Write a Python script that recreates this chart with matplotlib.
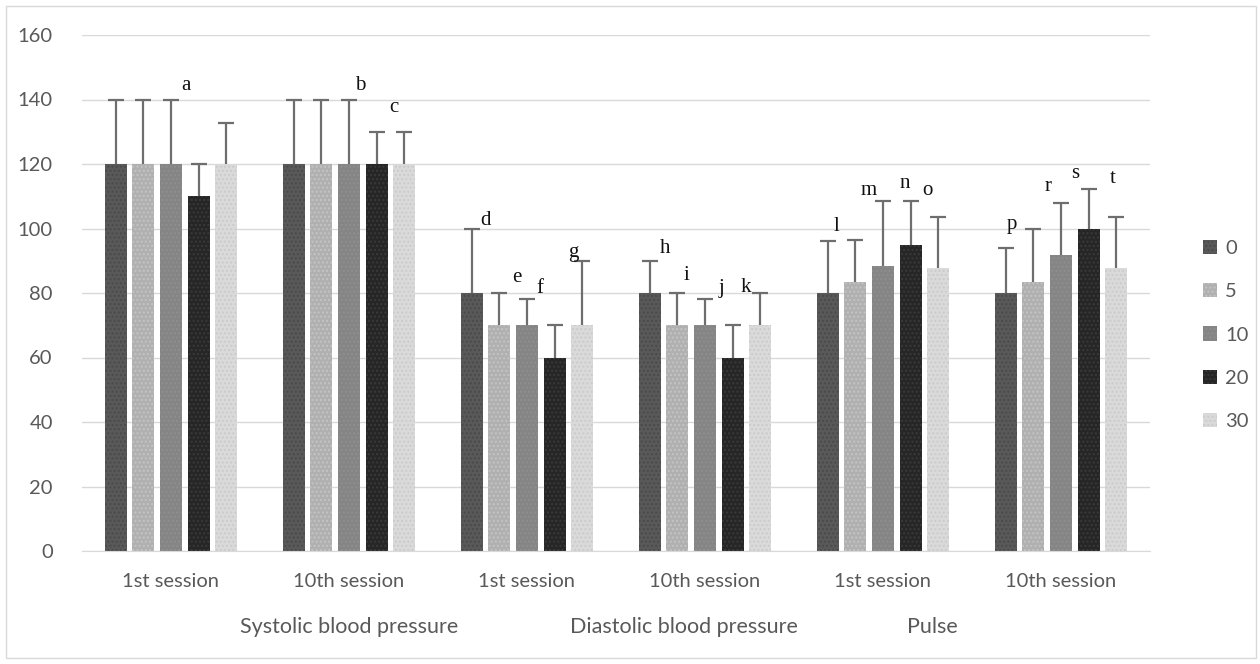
import matplotlib
matplotlib.use("Agg")
import matplotlib.pyplot as plt
import numpy as np
from matplotlib.patches import Rectangle

# data
sessions = ["1st session", "10th session"] * 3
measures = ["Systolic blood pressure", "Diastolic blood pressure", "Pulse"]
series = ["0", "5", "10", "20", "30"]

# one row per group (SBP 1st, SBP 10th, DBP 1st, DBP 10th, Pulse 1st, Pulse 10th)
means = np.array([
    [120, 120, 120, 110, 120],
    [120, 120, 120, 120, 120],
    [80, 70, 70, 60, 70],
    [80, 70, 70, 60, 70],
    [80, 83.5, 88.3, 95, 87.7],
    [80, 83.5, 91.8, 99.8, 87.7],
])
sds = np.array([
    [20, 20, 20, 10, 12.6],
    [20, 20, 20, 10, 10],
    [20, 10, 8, 10, 20],
    [10, 10, 8, 10, 10],
    [16, 13, 20.2, 13.5, 16],
    [14, 16.5, 16, 12.4, 16],
])

# significance letters: (letter, group, bar, x shift in group units, height above cap)
letters = [
    ("a", 0, 2, 0.085, 1.5), ("b", 1, 2, 0.065, 1.5), ("c", 1, 3, 0.095, 4.5),
    ("d", 2, 0, 0.075, -0.5), ("e", 2, 1, 0.095, 2.0), ("f", 2, 2, 0.075, 0.3),
    ("g", 2, 4, -0.05, -0.5), ("h", 3, 0, 0.085, 1.0), ("i", 3, 1, 0.05, 2.5),
    ("j", 3, 2, 0.09, 0.5), ("k", 3, 4, -0.08, -1.2), ("l", 4, 0, 0.05, 1.8),
    ("m", 4, 2, -0.08, 0.3), ("n", 4, 3, -0.03, 2.5), ("o", 4, 3, 0.095, 0.3),
    ("p", 5, 0, 0.035, 4.3), ("r", 5, 2, -0.075, 2.3), ("s", 5, 3, -0.075, 1.8),
    ("t", 5, 4, -0.02, 9.0),
]

colors = ["#595959", "#b0b0b0", "#858585", "#262626", "#dadada"]
dots = ["#4a4a4a", "#c4c4c4", "#8f8f8f", "#3a3a3a", "#cbcbcb"]
label_font = "Lato"
txt = "#595959"

fig = plt.figure(figsize=(12.6, 6.64), dpi=100)
ax = fig.add_axes([82 / 1260, 1 - 551 / 664, 1068 / 1260, 516 / 664])

x = np.arange(len(sessions))
stride = 0.155
width = 0.124
handles = []
for i, name in enumerate(series):
    pos = x + (i - 2) * stride
    b = ax.bar(pos, means[:, i], width, color=colors[i], edgecolor=dots[i],
               linewidth=0, hatch="....", label=name, zorder=2)
    tops = means[:, i] + sds[:, i]
    # upper error bars only
    ax.vlines(pos, means[:, i], tops, color="#6e6e6e", lw=1.6, zorder=3)
    ax.plot(pos, tops, ls="none", marker="_", ms=11, mew=1.6,
            color="#6e6e6e", zorder=3)
    handles.append(b)

for ch, g, j, dx, dy in letters:
    px = x[g] + (j - 2) * stride + dx
    top = means[g, j] + sds[g, j]
    ax.text(px, top + dy, ch, family="Liberation Serif", fontsize=15,
            ha="center", va="bottom", color="#111111", zorder=4)

ax.set_xlim(-0.5, 5.5)
ax.set_ylim(0, 160)
ax.set_yticks(range(0, 161, 20))
ax.yaxis.grid(True, color="#d9d9d9", lw=1)
ax.set_axisbelow(True)
for s in ["top", "right", "left"]:
    ax.spines[s].set_visible(False)
ax.spines["bottom"].set_color("#d9d9d9")
ax.tick_params(length=0, labelsize=14.5, labelcolor=txt)
ax.tick_params(axis="y", pad=21)
ax.tick_params(axis="x", pad=16)
for lab in ax.get_yticklabels():
    lab.set_family(label_font)
ax.set_xticks(x)
ax.set_xticklabels(sessions, family=label_font, fontsize=14.5)

# outer category labels
for name, cx in zip(measures, [1.0, 2.88, 4.28]):
    ax.text(cx, -0.148, name, transform=ax.get_xaxis_transform(),
            ha="center", va="center", family=label_font, fontsize=15.5,
            color=txt)

fig.legend(handles=handles, labels=series, loc="center left",
           bbox_to_anchor=(1185 / 1260, 1 - 335 / 664), frameon=False,
           handlelength=0.7, handleheight=0.7, handletextpad=0.4,
           labelspacing=1.3, prop={"family": label_font, "size": 14.5},
           labelcolor=txt)

fig.patches.append(Rectangle((6 / 1260, 6 / 664), 1250 / 1260, 652 / 664,
                             transform=fig.transFigure, fill=False,
                             edgecolor="#d9d9d9", lw=1))

fig.savefig("out.png", dpi=100)
